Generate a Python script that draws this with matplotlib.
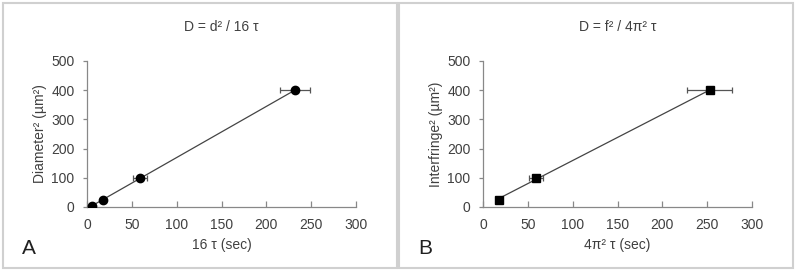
import matplotlib
matplotlib.use("Agg")
import matplotlib.pyplot as plt
from matplotlib.patches import Rectangle
import numpy as np

plt.rcParams['font.family'] = ['Liberation Sans', 'DejaVu Sans']

# Panel A data
a_x = [6, 18, 59, 232]
a_y = [4, 25, 100, 400]
a_xerr = [0, 0, 8, 17]

# Panel B data
b_x = [18, 59, 253]
b_y = [25, 100, 400]
b_xerr = [0, 8, 25]

txt = '#404040'
fs = 10
fig = plt.figure(figsize=(7.96, 2.71), dpi=100)

# panel frames
for x0 in [3/796, 399/796]:
    fig.patches.append(Rectangle((x0, 3/271), 394/796, 265/271, transform=fig.transFigure,
                                 fill=False, edgecolor='#d0d0d0', linewidth=1.5))

def panel(left, xs, ys, xerr, marker, ms, title, xlabel, ylabel, letter, lx):
    ax = fig.add_axes([left/796, 1-207/271, 269/796, 146/271])
    ax.errorbar(xs, ys, xerr=xerr, fmt='none', ecolor='#555555', elinewidth=0.9,
                capsize=2.5, capthick=0.9, zorder=2)
    p = np.polyfit(xs, ys, 1)
    xf = np.array([min(xs), max(xs)])
    ax.plot(xf, np.polyval(p, xf), color='#444444', lw=0.9, zorder=1)
    ax.plot(xs, ys, linestyle='None', marker=marker, color='black', markersize=ms, zorder=3)
    ax.set_xlim(0, 300)
    ax.set_ylim(0, 500)
    ax.set_xticks(range(0, 301, 50))
    ax.set_yticks(range(0, 501, 100))
    for s in ['top', 'right']:
        ax.spines[s].set_visible(False)
    for s in ['left', 'bottom']:
        ax.spines[s].set_color('#888888')
        ax.spines[s].set_linewidth(0.9)
    ax.tick_params(colors='#888888', labelcolor=txt, labelsize=fs, width=0.9)
    ax.tick_params(axis='y', length=3, pad=6)
    ax.tick_params(axis='x', direction='in', length=4, pad=8)
    ax.set_title(title, fontsize=fs, color=txt, pad=21.5)
    ax.set_xlabel(xlabel, fontsize=fs, color=txt, labelpad=4)
    ax.set_ylabel(ylabel, fontsize=fs, color=txt, labelpad=3)
    fig.text(lx/796, 1-248/271, letter, fontsize=15, color='#202020', va='center')
    return ax

panel(87, a_x, a_y, a_xerr, 'o', 6, 'D = d² / 16 τ', '16 τ (sec)', 'Diameter² (µm²)', 'A', 22)
panel(483, b_x, b_y, b_xerr, 's', 5.5, 'D = f² / 4π² τ', '4π² τ (sec)', 'Interfringe² (µm²)', 'B', 418)

fig.savefig('out.png', dpi=100)
